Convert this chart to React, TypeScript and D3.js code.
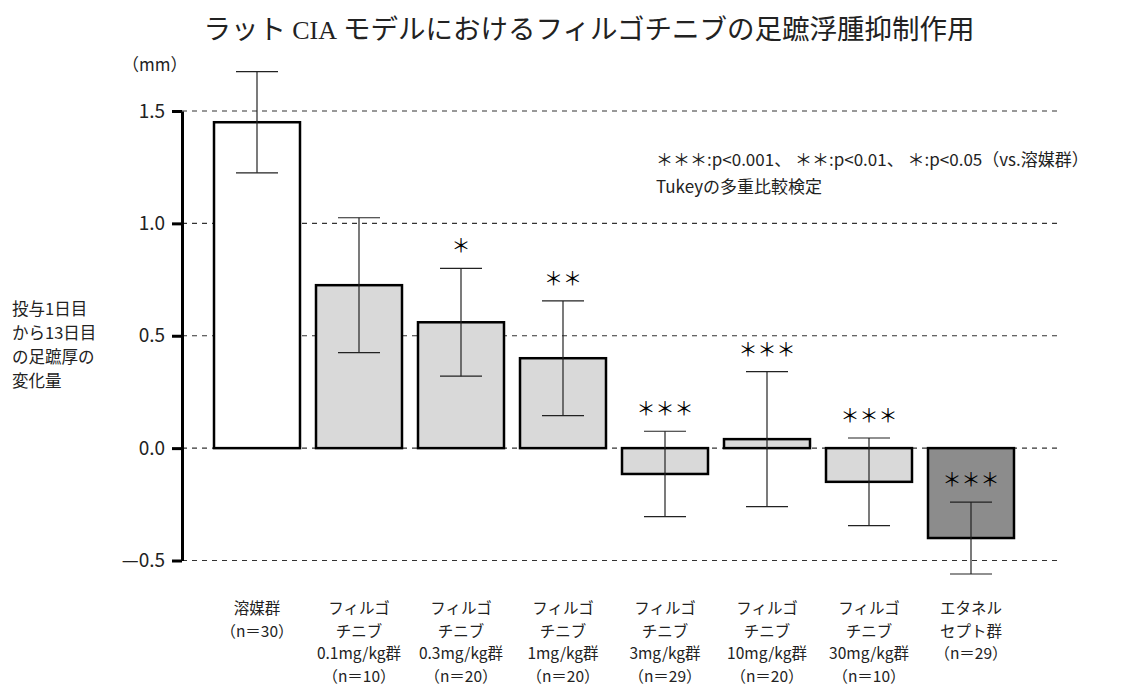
import { useEffect, useRef } from "react";
import * as d3 from "d3";

const width = 1134;
const height = 684;
const margin = { top: 111, right: 78, bottom: 123, left: 182 };

const groups = ["veh", "f01", "f03", "f1", "f3", "f10", "f30", "eta"];
const groupLabels = [
  ["溶媒群", "（n＝30）"],
  ["フィルゴ", "チニブ", "0.1mg/kg群", "（n＝10）"],
  ["フィルゴ", "チニブ", "0.3mg/kg群", "（n＝20）"],
  ["フィルゴ", "チニブ", "1mg/kg群", "（n＝20）"],
  ["フィルゴ", "チニブ", "3mg/kg群", "（n＝29）"],
  ["フィルゴ", "チニブ", "10mg/kg群", "（n＝20）"],
  ["フィルゴ", "チニブ", "30mg/kg群", "（n＝10）"],
  ["エタネル", "セプト群", "（n＝29）"],
];
const means = [1.45, 0.725, 0.56, 0.40, -0.115, 0.04, -0.15, -0.40];
const errors = [0.225, 0.30, 0.24, 0.255, 0.19, 0.30, 0.195, 0.16];
const stars = ["", "", "＊", "＊＊", "＊＊＊", "＊＊＊", "＊＊＊", "＊＊＊"];
const fills = ["#ffffff", "#d9d9d9", "#d9d9d9", "#d9d9d9", "#d9d9d9", "#d9d9d9", "#d9d9d9", "#8c8c8c"];
const yTicks = [-0.5, 0, 0.5, 1.0, 1.5];

const font = "'Noto Sans CJK JP', 'Noto Sans', sans-serif";
const serif = "'Liberation Serif', 'DejaVu Serif', serif";

const App = () => {
  const axisRef = useRef<SVGGElement>(null);

  const x = d3
    .scaleBand()
    .domain(groups)
    .range([206, 1022])
    .paddingInner(0.157)
    .paddingOuter(0.0785);
  const y = d3
    .scaleLinear()
    .domain([-0.5, 1.5])
    .range([height - margin.bottom - 0.5, margin.top]);
  const fmt = d3.format(".1f");

  useEffect(() => {
    const g = d3.select(axisRef.current);
    g.selectAll("*").remove();
    g.call(
      d3
        .axisLeft(y)
        .tickValues(yTicks)
        .tickFormat((d) => fmt(d as number).replace("−", "—"))
        .tickSize(10)
        .tickSizeOuter(0)
    );
    g.select(".domain").attr("stroke", "#000").attr("stroke-width", 3);
    g.selectAll(".tick line").attr("stroke", "#000").attr("stroke-width", 3);
    g.selectAll(".tick text")
      .attr("font-family", font)
      .attr("font-size", 19)
      .attr("fill", "#222")
      .attr("x", -17);
  }, []);

  const capW = 42;

  return (
    <svg width={width} height={height} style={{ position: "absolute", left: 0, top: 0 }}>
      <text x={589} y={39} textAnchor="middle" fontFamily={font} fontSize={27.5} fill="#222">
        ラット <tspan fontFamily={serif} fontSize={26}>CIA</tspan> モデルにおけるフィルゴチニブの足蹠浮腫抑制作用
      </text>
      <text x={122} y={71} fontFamily={font} fontSize={17} fill="#222">（mm）</text>
      <text fontFamily={font} fontSize={16.5} fill="#222">
        {["投与1日目", "から13日目", "の足蹠厚の", "変化量"].map((s, i) => (
          <tspan key={i} x={12} y={315 + i * 24}>{s}</tspan>
        ))}
      </text>

      {yTicks.map((t) => (
        <line key={t} x1={margin.left} x2={1058} y1={y(t)} y2={y(t)} stroke="#333" strokeWidth={1.2} strokeDasharray="5,5" />
      ))}

      {means.map((m, i) => {
        const x0 = x(groups[i])!;
        const top = y(Math.max(m, 0));
        const bot = y(Math.min(m, 0));
        return (
          <rect key={i} x={x0} y={top} width={x.bandwidth()} height={bot - top} fill={fills[i]} stroke="#000" strokeWidth={2.5} />
        );
      })}

      {means.map((m, i) => {
        const cx = x(groups[i])! + x.bandwidth() / 2;
        const hi = y(m + errors[i]);
        const lo = y(m - errors[i]);
        return (
          <g key={i} stroke="#222" strokeWidth={1.2}>
            <line x1={cx} x2={cx} y1={hi} y2={lo} />
            <line x1={cx - capW / 2} x2={cx + capW / 2} y1={hi} y2={hi} />
            <line x1={cx - capW / 2} x2={cx + capW / 2} y1={lo} y2={lo} />
          </g>
        );
      })}

      {stars.map((s, i) => {
        if (!s) return null;
        const cx = x(groups[i])! + x.bandwidth() / 2;
        const hi = y(means[i] + errors[i]);
        return (
          <text key={i} x={cx} y={hi - 15} textAnchor="middle" fontFamily={font} fontSize={19} fill="#000">{s}</text>
        );
      })}

      <g ref={axisRef} transform={`translate(${margin.left},0)`} />

      <text fontFamily={font} fontSize={17} fill="#222">
        <tspan x={656} y={166}>＊＊＊:p&lt;0.001、 ＊＊:p&lt;0.01、 ＊:p&lt;0.05（vs.溶媒群）</tspan>
        <tspan x={656} y={193}>Tukeyの多重比較検定</tspan>
      </text>

      {groupLabels.map((lines, i) => {
        const cx = x(groups[i])! + x.bandwidth() / 2;
        return (
          <text key={i} textAnchor="middle" fontFamily={font} fontSize={15.5} fill="#222">
            {lines.map((s, j) => (
              <tspan key={j} x={cx} y={614 + j * 22.5}>{s}</tspan>
            ))}
          </text>
        );
      })}
    </svg>
  );
};

export default App;
